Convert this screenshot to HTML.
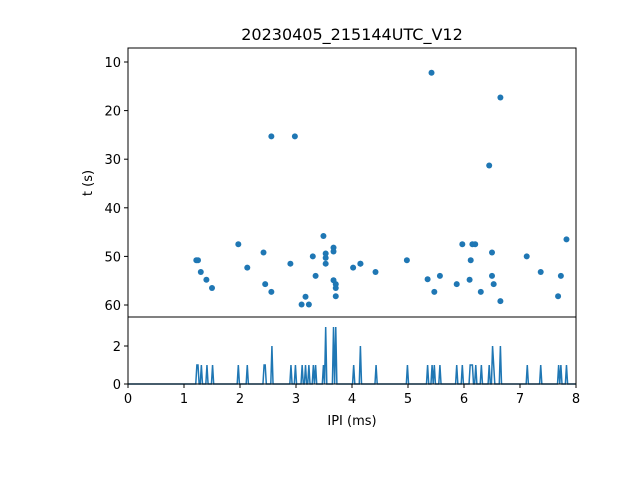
<!DOCTYPE html>
<html><head><meta charset="utf-8"><style>
body{margin:0;background:#fff}
svg text{font-family:"DejaVu Sans","Liberation Sans",sans-serif;fill:#000}
</style></head><body>
<svg width="640" height="480" xmlns="http://www.w3.org/2000/svg">
<rect width="640" height="480" fill="#fff"/>
<text x="352" y="40" font-size="16" text-anchor="middle">20230405_215144UTC_V12</text>
<g id="scatter"></g>
<g id="hist"></g>
<g id="axes"></g>
<text x="352" y="425" font-size="13" text-anchor="middle">IPI (ms)</text>
<text transform="translate(92,183) rotate(-90)" font-size="13" text-anchor="middle">t (s)</text>
</svg>
<script>
const ipiValues=[1.22,1.25,1.3,1.4,1.5,1.97,2.13,2.42,2.45,2.56,2.56,2.9,2.98,3.1,3.17,3.23,3.3,3.35,3.49,3.53,3.53,3.53,3.67,3.67,3.67,3.71,3.71,3.71,4.02,4.15,4.15,4.42,4.98,5.35,5.42,5.47,5.57,5.87,5.97,6.1,6.12,6.15,6.2,6.3,6.45,6.5,6.5,6.53,6.65,6.65,7.12,7.37,7.68,7.73,7.83];
const timeValues=[50.8,50.8,53.2,54.8,56.5,47.5,52.3,49.2,55.7,25.3,57.3,51.5,25.3,59.9,58.3,59.9,50,54,45.8,49.4,50.3,51.5,48.2,49,54.9,55.7,56.5,58.2,52.3,51.5,51.5,53.2,50.8,54.7,12.2,57.3,54,55.7,47.5,54.8,50.8,47.5,47.5,57.3,31.3,49.2,54,55.7,17.3,59.2,50,53.2,58.2,54,46.5];
const xTicks=[0,1,2,3,4,5,6,7,8];
const yTicks=[10,20,30,40,50,60];
const countTicks=[0,2];
const NS="http://www.w3.org/2000/svg";
const L=128,R=576,T=48,M=317,B=384;
const X=v=>L+(v-0)/8*(R-L);
const Y=t=>62+(t-10)*4.86;
const C=c=>B-c*19;
function mk(tag,attrs,parent){const e=document.createElementNS(NS,tag);for(const k in attrs)e.setAttribute(k,attrs[k]);parent.appendChild(e);return e;}
const sc=document.getElementById('scatter');
ipiValues.forEach((v,i)=>{const c=mk('circle',{cx:X(v),cy:Y(timeValues[i]),r:3,fill:'#1f77b4'},sc);

});
const binW=0.02,nb=Math.round(8/binW);const counts=new Array(nb).fill(0);
ipiValues.forEach(v=>{const b=Math.min(nb-1,Math.floor(v/binW+1e-6));counts[b]++;});
let d='';counts.forEach((c,i)=>{d+=(i?'L':'M')+X((i+0.5)*binW).toFixed(2)+' '+C(c).toFixed(2);});
const hp=mk('path',{d:d,fill:'none',stroke:'#1f77b4','stroke-width':1.5},document.getElementById('hist'));


const ax=document.getElementById('axes');
const f1=mk('rect',{x:L,y:T,width:R-L,height:M-T,fill:'none',stroke:'#000','stroke-width':1},ax);


const f2=mk('rect',{x:L,y:M,width:R-L,height:B-M,fill:'none',stroke:'#000','stroke-width':1},ax);


xTicks.forEach(v=>{mk('line',{x1:X(v),x2:X(v),y1:B,y2:B+4,stroke:'#000'},ax);
const t=mk('text',{x:X(v),y:B+19,'font-size':13,'text-anchor':'middle'},ax);t.textContent=v;

});
yTicks.forEach(v=>{mk('line',{x1:L-4,x2:L,y1:Y(v),y2:Y(v),stroke:'#000'},ax);
const t=mk('text',{x:L-7,y:Y(v)+5,'font-size':13,'text-anchor':'end'},ax);t.textContent=v;

});
countTicks.forEach(v=>{mk('line',{x1:L-4,x2:L,y1:C(v),y2:C(v),stroke:'#000'},ax);
const t=mk('text',{x:L-7,y:C(v)+5,'font-size':13,'text-anchor':'end'},ax);t.textContent=v;

});
</script>
</body></html>
